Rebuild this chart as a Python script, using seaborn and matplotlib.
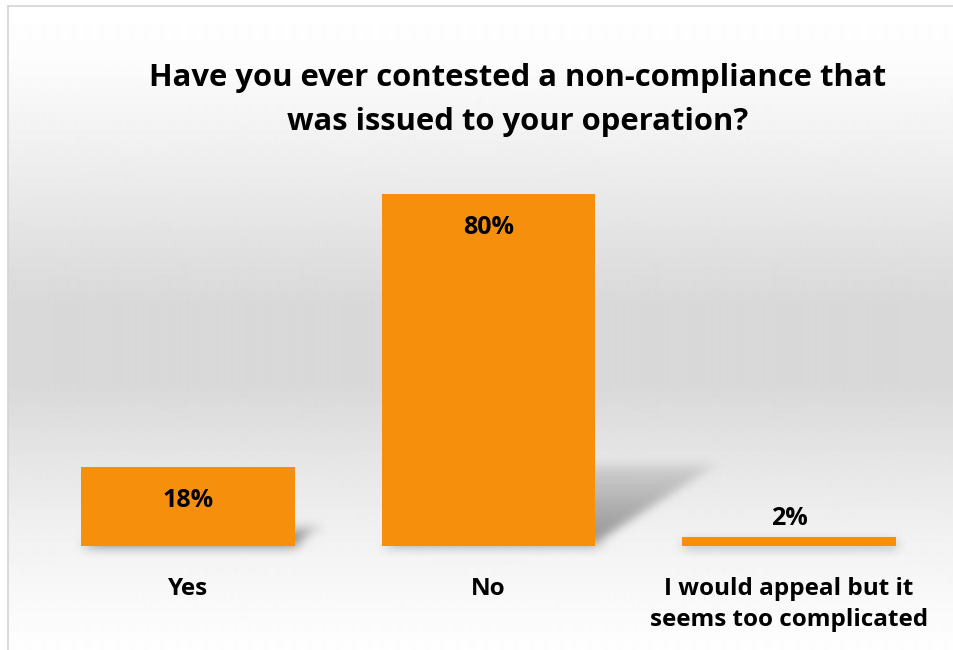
import numpy as np
import pandas as pd
import matplotlib
matplotlib.use("Agg")
import matplotlib.pyplot as plt
import seaborn as sns
from matplotlib.collections import PolyCollection

# Survey results
categories = ["Yes", "No", "I would appeal but it\nseems too complicated"]
shares = [18, 80, 2]
value_labels = ["18%", "80%", "2%"]
title = "Have you ever contested a non-compliance that\nwas issued to your operation?"

BAR_COLOR = "#F68F0B"

sns.set_theme(style="white")
plt.rcParams["font.family"] = ["Open Sans", "DejaVu Sans"]

W, H = 954, 650
fig = plt.figure(figsize=(W / 100, H / 100), dpi=100)
fig.patch.set_facecolor("white")

# Chart-area background: vertical grey gradient with a thin frame on the left/top
bg = fig.add_axes([8 / W, 0, 1 - 8 / W, 1 - 6 / H], zorder=0)
rows = np.arange(644)
stop_rows = [0, 55, 165, 295, 380, 455, 540, 644]
stop_vals = [255, 252, 237, 217, 217, 230, 243, 254]
shade = np.interp(rows, stop_rows, stop_vals) / 255
bg.imshow(np.repeat(shade[:, None], 2, axis=1), cmap="gray", vmin=0, vmax=1,
          aspect="auto", extent=[0, 1, 0, 1], interpolation="bilinear")
bg.set_xticks([]); bg.set_yticks([])
for side in ("right", "bottom"):
    bg.spines[side].set_visible(False)
for side in ("left", "top"):
    bg.spines[side].set_color("#D4D4D4")
    bg.spines[side].set_linewidth(1.2)

# Plot area
ax = fig.add_axes([37.75 / W, (H - 546) / H, 901.5 / W, 396 / H], zorder=1)
ax.set_facecolor("none")
df = pd.DataFrame({"answer": categories, "share": shares})
sns.barplot(data=df, x="answer", y="share", color=BAR_COLOR, saturation=1,
            width=0.71, linewidth=0, edgecolor="none", ax=ax, zorder=3)
ax.set_xlim(-0.5, 2.5)
ax.set_ylim(0, 90)
ax.set_xlabel(""); ax.set_ylabel("")
ax.set_yticks([])
for s in ax.spines.values():
    s.set_visible(False)
ax.tick_params(axis="x", length=0, pad=22)
for lab in ax.get_xticklabels():
    lab.set_fontsize(17.5)
    lab.set_fontweight("bold")
    lab.set_color("black")
    lab.set_linespacing(1.42)


def gaussian_blur(sigma_px):
    def _filter(im, dpi):
        sigma = sigma_px * dpi / 100
        pad = int(3 * sigma) + 1
        src = np.pad(im, [(pad, pad), (pad, pad), (0, 0)], "constant")
        x = np.arange(-pad, pad + 1)
        k = np.exp(-x ** 2 / (2 * sigma ** 2))
        k /= k.sum()
        out = np.apply_along_axis(lambda r: np.convolve(r, k, mode="same"), 0, src)
        out = np.apply_along_axis(lambda r: np.convolve(r, k, mode="same"), 1, out)
        return out, -pad, -pad
    return _filter


# Perspective drop shadows cast to the right of each bar
skew_x = 0.0052   # horizontal shift per unit of bar height
squash_y = 0.23   # vertical foreshortening of the shadow
n_slices = 24
bars = list(ax.patches)
for p in bars:
    xl, w, h = p.get_x(), p.get_width(), p.get_height()
    polys, cols = [], []
    for i in range(n_slices):
        t0, t1 = i / n_slices, (i + 1) / n_slices
        dx0, dy0 = skew_x * h * t0, squash_y * h * t0
        dx1, dy1 = skew_x * h * t1, squash_y * h * t1
        polys.append([(xl + dx0, dy0), (xl + w + dx0, dy0),
                      (xl + w + dx1, dy1), (xl + dx1, dy1)])
        a = 0.34 * (1 - 0.75 * (t0 + t1) / 2)
        cols.append((0, 0, 0, a))
    pc = PolyCollection(polys, facecolors=cols, edgecolors="none",
                        antialiased=False, zorder=2)
    pc.set_agg_filter(gaussian_blur(4))
    ax.add_collection(pc)

# Value labels: inside the top of tall bars, above short ones
for p, txt in zip(bars, value_labels):
    cx = p.get_x() + p.get_width() / 2
    h = p.get_height()
    off = -24 if h > 10 else 13.5
    ax.annotate(txt, (cx, h), xytext=(0, off), textcoords="offset points",
                ha="center", va="center", fontsize=18, fontweight="bold",
                color="black", zorder=5)

fig.text(518 / W, 1 - 100 / H, title, ha="center", va="center",
         fontsize=22.3, fontweight="bold", color="black", linespacing=1.6)

fig.savefig("out.png", dpi=100)
